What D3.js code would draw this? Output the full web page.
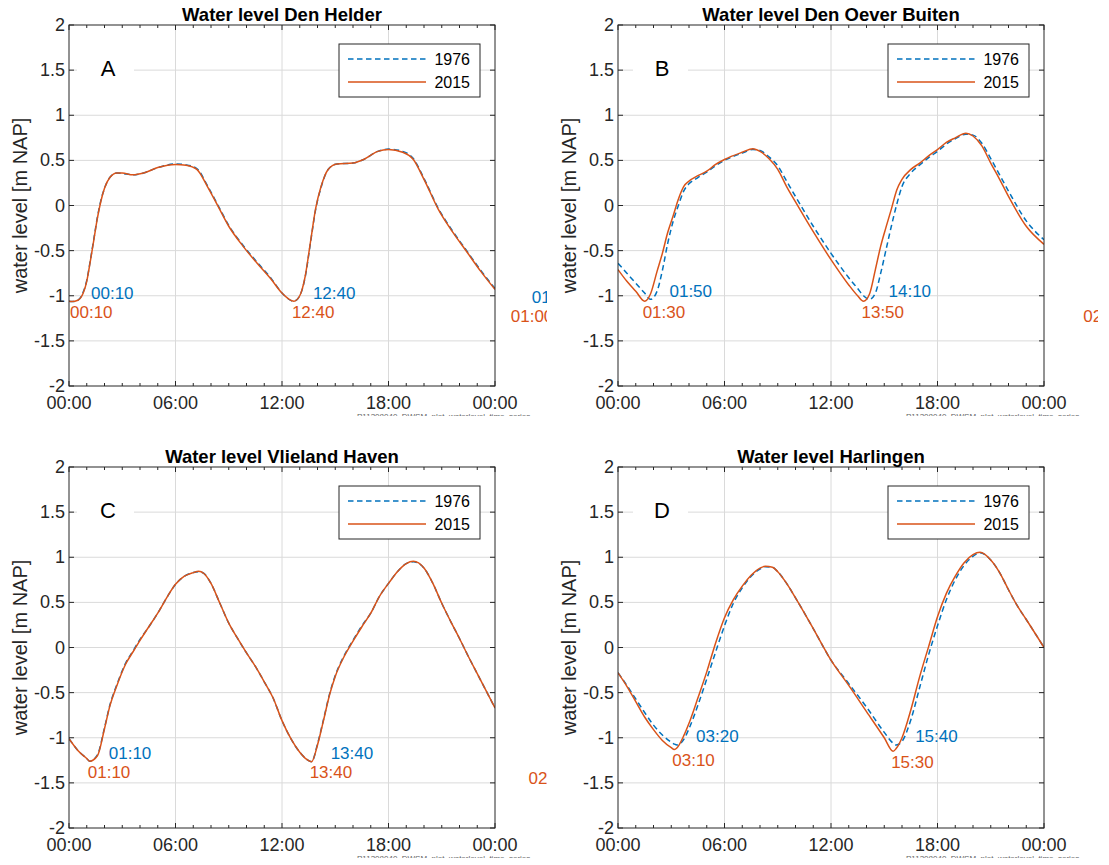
<!DOCTYPE html>
<html>
<head>
<meta charset="utf-8">
<script src="https://cdn.jsdelivr.net/npm/d3@7"></script>
<style>
  body { margin: 0; background: #fff; }
  text { font-family: "Liberation Sans", Arial, Helvetica, sans-serif; }
</style>
</head>
<body>
<svg id="chart" width="1109" height="865"></svg>
<script>
// ---------- data ----------
var stations = ["Den Helder", "Den Oever Buiten", "Vlieland Haven", "Harlingen"];
var panelLetters = ["A", "B", "C", "D"];
var years = ["1976", "2015"];
var xTicks = [0, 6, 12, 18, 24];
var xTickLabels = ["00:00", "06:00", "12:00", "18:00", "00:00"];
var yTicks = [-2, -1.5, -1, -0.5, 0, 0.5, 1, 1.5, 2];
var stampText = "P11208040_DWSM_plot_waterlevel_time_series_";

// Den Helder
var hoursA = [0, 0.17, 0.5, 0.8, 1.0, 1.2, 1.4, 1.6, 1.8, 2.0, 2.3, 2.7, 3.0, 3.6, 4.2, 5.0, 6.0, 6.6, 7.2, 7.8, 8.4, 9.0, 9.8, 10.6, 11.4, 12.0, 12.67, 13.0, 13.3, 13.6, 13.9, 14.2, 14.6, 15.1, 16.0, 16.6, 17.4, 18.0, 18.8, 19.4, 20.0, 20.8, 21.6, 22.4, 23.2, 24];
var levelA1976 = [-1.06, -1.065, -1.05, -0.96, -0.83, -0.61, -0.37, -0.13, 0.06, 0.19, 0.31, 0.36, 0.355, 0.34, 0.36, 0.42, 0.46, 0.45, 0.41, 0.22, 0.0, -0.22, -0.44, -0.63, -0.81, -0.97, -1.06, -1.0, -0.8, -0.42, -0.04, 0.2, 0.40, 0.46, 0.47, 0.51, 0.60, 0.625, 0.60, 0.52, 0.30, -0.03, -0.28, -0.50, -0.72, -0.92];
var levelA2015 = [-1.06, -1.065, -1.05, -0.97, -0.84, -0.62, -0.38, -0.14, 0.05, 0.19, 0.31, 0.36, 0.36, 0.34, 0.36, 0.42, 0.455, 0.445, 0.40, 0.21, -0.01, -0.23, -0.45, -0.64, -0.82, -0.97, -1.06, -1.0, -0.79, -0.41, -0.03, 0.21, 0.40, 0.46, 0.47, 0.51, 0.60, 0.62, 0.59, 0.51, 0.29, -0.04, -0.29, -0.51, -0.73, -0.93];
var lowHoursA1976 = [0.17, 12.67, 25.0], lowLevelA1976 = [-1.065, -1.06, -1.11], lowTextA1976 = ["00:10", "12:40", "01:00"];
var lowHoursA2015 = [0.17, 12.67, 25.0], lowLevelA2015 = [-1.065, -1.06, -1.11], lowTextA2015 = ["00:10", "12:40", "01:00"];

// Den Oever Buiten
var hoursB = [0, 0.5, 1.0, 1.5, 1.83, 2.2, 2.5, 2.8, 3.1, 3.4, 3.7, 4.0, 4.5, 5.0, 5.5, 6.0, 7.0, 7.6, 8.0, 8.5, 9.0, 9.5, 10.0, 11.0, 12.0, 13.0, 13.5, 13.83, 14.17, 14.5, 14.8, 15.1, 15.4, 15.7, 16.0, 16.5, 17.0, 17.5, 18.0, 18.5, 19.0, 19.6, 20.0, 20.5, 21.0, 21.5, 22.0, 23.0, 24];
var levelB1976 = [-0.64, -0.75, -0.86, -0.97, -1.04, -0.95, -0.72, -0.42, -0.18, 0.0, 0.16, 0.24, 0.31, 0.37, 0.44, 0.50, 0.58, 0.62, 0.61, 0.54, 0.44, 0.27, 0.10, -0.23, -0.53, -0.80, -0.92, -1.0, -1.04, -0.97, -0.75, -0.49, -0.23, 0.01, 0.21, 0.36, 0.45, 0.53, 0.60, 0.68, 0.74, 0.79, 0.78, 0.69, 0.52, 0.34, 0.16, -0.17, -0.38];
var levelB2015 = [-0.71, -0.84, -0.95, -1.06, -0.98, -0.73, -0.53, -0.30, -0.12, 0.07, 0.21, 0.27, 0.33, 0.38, 0.455, 0.51, 0.59, 0.63, 0.60, 0.52, 0.40, 0.21, 0.04, -0.29, -0.60, -0.88, -1.0, -1.06, -0.98, -0.71, -0.45, -0.24, -0.04, 0.17, 0.29, 0.40, 0.47, 0.55, 0.62, 0.70, 0.75, 0.80, 0.77, 0.66, 0.47, 0.29, 0.10, -0.23, -0.43];
var lowHoursB1976 = [1.83, 14.17], lowLevelB1976 = [-1.04, -1.04], lowTextB1976 = ["01:50", "14:10"];
var lowHoursB2015 = [1.5, 13.83, 26.33], lowLevelB2015 = [-1.06, -1.06, -1.11], lowTextB2015 = ["01:30", "13:50", "02:20"];

// Vlieland Haven
var hoursC = [0, 0.5, 1.0, 1.17, 1.6, 2.0, 2.3, 2.7, 3.2, 3.6, 4.0, 4.5, 5.0, 5.5, 6.0, 6.5, 7.0, 7.3, 7.6, 8.0, 8.5, 9.0, 9.5, 10.0, 10.5, 11.0, 11.5, 12.0, 12.5, 13.0, 13.4, 13.67, 14.0, 14.3, 14.7, 15.0, 15.5, 16.0, 16.5, 17.0, 17.5, 18.0, 18.5, 19.0, 19.4, 20.0, 20.5, 21.0, 21.5, 22.0, 22.5, 23.0, 24];
var levelC1976 = [-1.01, -1.14, -1.23, -1.26, -1.19, -0.89, -0.64, -0.41, -0.17, -0.04, 0.09, 0.23, 0.38, 0.55, 0.70, 0.79, 0.83, 0.84, 0.82, 0.71, 0.49, 0.27, 0.10, -0.06, -0.21, -0.38, -0.56, -0.81, -1.01, -1.16, -1.24, -1.265, -1.07, -0.83, -0.50, -0.31, -0.09, 0.08, 0.24, 0.38, 0.57, 0.71, 0.84, 0.93, 0.95, 0.88, 0.71, 0.49, 0.29, 0.10, -0.10, -0.29, -0.67];
var levelC2015 = [-1.01, -1.14, -1.23, -1.26, -1.20, -0.90, -0.65, -0.42, -0.18, -0.05, 0.08, 0.23, 0.38, 0.55, 0.70, 0.79, 0.83, 0.845, 0.82, 0.71, 0.49, 0.27, 0.10, -0.06, -0.21, -0.38, -0.56, -0.81, -1.01, -1.16, -1.24, -1.265, -1.08, -0.84, -0.51, -0.32, -0.10, 0.07, 0.23, 0.38, 0.57, 0.71, 0.84, 0.93, 0.955, 0.88, 0.71, 0.49, 0.29, 0.10, -0.10, -0.29, -0.67];
var lowHoursC1976 = [1.17, 13.67], lowLevelC1976 = [-1.26, -1.265], lowTextC1976 = ["01:10", "13:40"];
var lowHoursC2015 = [1.17, 13.67, 26.0], lowLevelC2015 = [-1.26, -1.265, -1.33], lowTextC2015 = ["01:10", "13:40", "02:00"];

// Harlingen
var hoursD = [0, 0.5, 1.0, 1.5, 2.0, 2.5, 3.0, 3.17, 3.33, 3.7, 4.0, 4.5, 5.0, 5.5, 6.0, 6.5, 7.0, 7.5, 8.0, 8.3, 8.7, 9.0, 9.5, 10.0, 11.0, 12.0, 13.0, 14.0, 15.0, 15.5, 15.67, 16.0, 16.5, 17.0, 17.5, 18.0, 18.5, 19.0, 19.5, 20.0, 20.4, 21.0, 21.5, 22.0, 22.5, 23.0, 24];
var levelD1976 = [-0.28, -0.42, -0.57, -0.72, -0.86, -0.97, -1.05, -1.07, -1.08, -1.02, -0.90, -0.64, -0.35, -0.05, 0.24, 0.49, 0.66, 0.79, 0.87, 0.895, 0.89, 0.84, 0.71, 0.55, 0.21, -0.14, -0.40, -0.66, -0.94, -1.06, -1.08, -1.04, -0.80, -0.44, -0.08, 0.24, 0.53, 0.75, 0.91, 1.01, 1.05, 0.97, 0.83, 0.64, 0.46, 0.31, 0.0];
var levelD2015 = [-0.28, -0.43, -0.60, -0.77, -0.91, -1.03, -1.11, -1.13, -1.11, -0.98, -0.84, -0.56, -0.27, 0.05, 0.33, 0.53, 0.68, 0.80, 0.88, 0.90, 0.89, 0.84, 0.71, 0.55, 0.21, -0.14, -0.42, -0.71, -1.0, -1.15, -1.12, -1.0, -0.69, -0.32, 0.01, 0.34, 0.60, 0.79, 0.94, 1.03, 1.055, 0.97, 0.83, 0.64, 0.46, 0.31, 0.0];
var lowHoursD1976 = [3.33, 15.67], lowLevelD1976 = [-1.08, -1.08], lowTextD1976 = ["03:20", "15:40"];
var lowHoursD2015 = [3.17, 15.5], lowLevelD2015 = [-1.13, -1.15], lowTextD2015 = ["03:10", "15:30"];

// ---------- layout ----------
var colors = { "1976": "#0072BD", "2015": "#D95319" };
var axisColor = "#262626";
var plotW = 426, plotH = 361;

var panels = [
  { left: 69,  top: 25,  clip: [0, 547],    letterDx: 39, boxDx: [8, 65],
    hours: hoursA, lev: { "1976": levelA1976, "2015": levelA2015 },
    low: { "1976": [lowHoursA1976, lowLevelA1976, lowTextA1976], "2015": [lowHoursA2015, lowLevelA2015, lowTextA2015] } },
  { left: 618, top: 25,  clip: [550, 1098], letterDx: 44, boxDx: [15, 70],
    hours: hoursB, lev: { "1976": levelB1976, "2015": levelB2015 },
    low: { "1976": [lowHoursB1976, lowLevelB1976, lowTextB1976], "2015": [lowHoursB2015, lowLevelB2015, lowTextB2015] } },
  { left: 69,  top: 467, clip: [0, 547],    letterDx: 39, boxDx: [8, 65],
    hours: hoursC, lev: { "1976": levelC1976, "2015": levelC2015 },
    low: { "1976": [lowHoursC1976, lowLevelC1976, lowTextC1976], "2015": [lowHoursC2015, lowLevelC2015, lowTextC2015] } },
  { left: 618, top: 467, clip: [550, 1098], letterDx: 44, boxDx: [15, 70],
    hours: hoursD, lev: { "1976": levelD1976, "2015": levelD2015 },
    low: { "1976": [lowHoursD1976, lowLevelD1976, lowTextD1976], "2015": [lowHoursD2015, lowLevelD2015, lowTextD2015] } }
];

var svg = d3.select("#chart");

panels.forEach(function(p, i) {
  var clipId = "clip" + i;
  svg.append("clipPath").attr("id", clipId)
    .append("rect").attr("x", p.clip[0]).attr("y", p.top - 30)
    .attr("width", p.clip[1] - p.clip[0]).attr("height", plotH + 60);

  var fig = svg.append("g").attr("clip-path", "url(#" + clipId + ")");
  var g = fig.append("g").attr("transform", "translate(" + p.left + "," + p.top + ")");

  var x = d3.scaleLinear().domain([0, 24]).range([0, plotW]);
  var y = d3.scaleLinear().domain([-2, 2]).range([plotH, 0]);

  // grid
  g.selectAll(".gx").data(xTicks.slice(1, -1)).enter().append("line")
    .attr("x1", d => x(d)).attr("x2", d => x(d)).attr("y1", 0).attr("y2", plotH)
    .attr("stroke", "#dadada").attr("stroke-width", 1);
  g.selectAll(".gy").data(yTicks.slice(1, -1)).enter().append("line")
    .attr("x1", 0).attr("x2", plotW).attr("y1", d => y(d)).attr("y2", d => y(d))
    .attr("stroke", "#dadada").attr("stroke-width", 1);

  // panel letter with white background
  g.append("rect").attr("x", p.boxDx[0]).attr("y", 29)
    .attr("width", p.boxDx[1] - p.boxDx[0]).attr("height", 27).attr("fill", "#fff");
  g.append("text").attr("x", p.letterDx).attr("y", 43)
    .attr("text-anchor", "middle").attr("dominant-baseline", "central")
    .attr("font-size", 22).attr("fill", "#000").text(panelLetters[i]);

  // lines
  var plotClip = "pclip" + i;
  svg.append("clipPath").attr("id", plotClip)
    .append("rect").attr("x", 0).attr("y", 0).attr("width", plotW).attr("height", plotH);
  var line = d3.line().x((d, k) => x(p.hours[k])).y(d => y(d)).curve(d3.curveMonotoneX);
  var lines = g.append("g").attr("clip-path", "url(#" + plotClip + ")");
  years.forEach(function(yr) {
    lines.append("path").datum(p.lev[yr])
      .attr("d", line).attr("fill", "none")
      .attr("stroke", colors[yr]).attr("stroke-width", 1.5)
      .attr("stroke-dasharray", yr === "1976" ? "5.5,3.5" : null);
  });

  // low water annotations
  years.forEach(function(yr) {
    var lo = p.low[yr];
    lo[0].forEach(function(h, k) {
      g.append("text")
        .attr("x", x(h) + (yr === "1976" ? 19 : -2))
        .attr("y", y(lo[1][k]) + (yr === "1976" ? -8 : 11))
        .attr("dominant-baseline", "central")
        .attr("font-size", 17).attr("fill", colors[yr]).text(lo[2][k]);
    });
  });

  // ticks
  var minor = d3.range(0, 25).filter(h => h % 6 !== 0);
  g.selectAll(".mt").data(minor).enter().append("line")
    .attr("x1", d => x(d)).attr("x2", d => x(d)).attr("y1", plotH).attr("y2", plotH - 3)
    .attr("stroke", axisColor);
  g.selectAll(".mtt").data(minor).enter().append("line")
    .attr("x1", d => x(d)).attr("x2", d => x(d)).attr("y1", 0).attr("y2", 3)
    .attr("stroke", axisColor);
  g.selectAll(".xt").data(xTicks).enter().append("line")
    .attr("x1", d => x(d)).attr("x2", d => x(d)).attr("y1", plotH).attr("y2", plotH - 5)
    .attr("stroke", axisColor);
  g.selectAll(".xtt").data(xTicks).enter().append("line")
    .attr("x1", d => x(d)).attr("x2", d => x(d)).attr("y1", 0).attr("y2", 5)
    .attr("stroke", axisColor);
  g.selectAll(".yt").data(yTicks).enter().append("line")
    .attr("x1", 0).attr("x2", 5).attr("y1", d => y(d)).attr("y2", d => y(d))
    .attr("stroke", axisColor);
  g.selectAll(".ytr").data(yTicks).enter().append("line")
    .attr("x1", plotW).attr("x2", plotW - 5).attr("y1", d => y(d)).attr("y2", d => y(d))
    .attr("stroke", axisColor);

  // box
  g.append("rect").attr("width", plotW).attr("height", plotH)
    .attr("fill", "none").attr("stroke", axisColor).attr("stroke-width", 1);

  // tick labels
  g.selectAll(".xl").data(xTicks).enter().append("text")
    .attr("x", d => x(d)).attr("y", plotH + 23)
    .attr("text-anchor", "middle").attr("font-size", 18).attr("fill", axisColor)
    .text((d, k) => xTickLabels[k]);
  g.selectAll(".yl").data(yTicks).enter().append("text")
    .attr("x", -4).attr("y", d => y(d)).attr("dominant-baseline", "central")
    .attr("text-anchor", "end").attr("font-size", 18).attr("fill", axisColor)
    .text(d => d);

  // axis label and title
  g.append("text").attr("transform", "translate(-49," + (plotH / 2) + ") rotate(-90)")
    .attr("text-anchor", "middle").attr("dominant-baseline", "central")
    .attr("font-size", 20).attr("fill", axisColor).text("water level [m NAP]");
  g.append("text").attr("x", plotW / 2).attr("y", -4)
    .attr("text-anchor", "middle").attr("font-size", 18.5).attr("font-weight", "bold")
    .attr("fill", "#000").text("Water level " + stations[i]);

  // legend
  var lg = g.append("g").attr("transform", "translate(" + (plotW - 156) + ",19)");
  lg.append("rect").attr("width", 141).attr("height", 53)
    .attr("fill", "#fff").attr("stroke", axisColor).attr("stroke-width", 1);
  years.forEach(function(yr, k) {
    var ry = 15 + k * 23;
    lg.append("line").attr("x1", 9).attr("x2", 87).attr("y1", ry).attr("y2", ry)
      .attr("stroke", colors[yr]).attr("stroke-width", 1.5)
      .attr("stroke-dasharray", yr === "1976" ? "5.5,3.5" : null);
    lg.append("text").attr("x", 131).attr("y", ry).attr("text-anchor", "end")
      .attr("dominant-baseline", "central").attr("font-size", 16).attr("fill", "#000").text(yr);
  });

  // file stamp
  g.append("text").attr("x", 288).attr("y", plotH + 33)
    .attr("font-size", 8).attr("fill", "#666").text(stampText);
});
</script>
</body>
</html>
